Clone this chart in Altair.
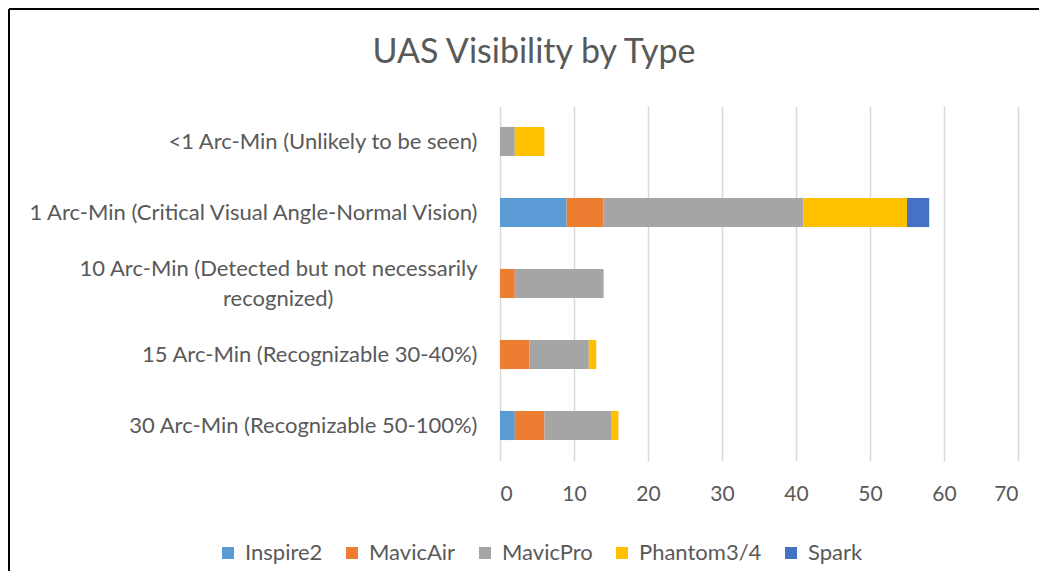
import altair as alt
import pandas as pd

categories = [
    "<1 Arc-Min (Unlikely to be seen)",
    "1 Arc-Min (Critical Visual Angle-Normal Vision)",
    "10 Arc-Min (Detected but not necessarily|recognized)",
    "15 Arc-Min (Recognizable 30-40%)",
    "30 Arc-Min (Recognizable 50-100%)",
]
series = ["Inspire2", "MavicAir", "MavicPro", "Phantom3/4", "Spark"]
colors = ["#5B9BD5", "#ED7D31", "#A5A5A5", "#FFC000", "#4472C4"]

inspire2 = [0, 9, 0, 0, 2]
mavic_air = [0, 5, 2, 4, 4]
mavic_pro = [2, 27, 12, 8, 9]
phantom = [4, 14, 0, 1, 1]
spark = [0, 3, 0, 0, 0]

values = [inspire2, mavic_air, mavic_pro, phantom, spark]
rows = []
for si, (name, vals) in enumerate(zip(series, values)):
    for cat, v in zip(categories, vals):
        if v > 0:
            rows.append({"category": cat, "type": name, "value": v, "order": si})
df = pd.DataFrame(rows)

FONT = "Lato"
GREY = "#595959"

# second line of the wrapped label sits roughly centred under the first (blank padding glyphs)
pad = "\u2800" * 9
label_expr = (
    "indexof(datum.label, '|') >= 0 ? "
    "[split(datum.label, '|')[0], split(datum.label, '|')[1] + '" + pad + "'] : datum.label"
)

bars = alt.Chart(df).mark_bar().encode(
    y=alt.Y(
        "category:N",
        sort=categories,
        title=None,
        scale=alt.Scale(paddingInner=0.59, paddingOuter=0.295),
        axis=alt.Axis(
            labelExpr=label_expr,
            labelFont=FONT,
            labelFontSize=22,
            labelColor=GREY,
            labelLimit=600,
            labelPadding=23,
            labelLineHeight=30,
            labelOffset={"condition": {"test": "indexof(datum.label, '|') >= 0", "value": -15}, "value": 0},
            ticks=False,
            domain=False,
        ),
    ),
    x=alt.X(
        "value:Q",
        stack="zero",
        title=None,
        scale=alt.Scale(domain=[0, 70], nice=False),
        axis=alt.Axis(
            values=[0, 10, 20, 30, 40, 50, 60, 70],
            labelFont=FONT,
            labelFontSize=21,
            labelColor=GREY,
            labelPadding=22,
            ticks=False,
            domain=False,
            grid=True,
            gridColor="#D9D9D9",
            gridWidth=1.5,
        ),
    ),
    color=alt.Color(
        "type:N",
        scale=alt.Scale(domain=series, range=colors),
        legend=alt.Legend(
            title=None,
            orient="none",
            direction="horizontal",
            legendX=-283,
            legendY=436,
            symbolType="square",
            symbolSize=144,
            symbolStrokeWidth=0,
            labelFont=FONT,
            labelFontSize=22,
            labelColor=GREY,
            labelOffset=6,
            columnPadding=18,
            padding=0,
        ),
    ),
    order=alt.Order("order:Q"),
)

border_left = alt.Chart(pd.DataFrame({"k": [0]})).mark_rule(color="black", strokeWidth=2).encode(
    x=alt.value(-491), y=alt.value(-97), y2=alt.value(470)
)
border_top = alt.Chart(pd.DataFrame({"k": [0]})).mark_rule(color="black", strokeWidth=2).encode(
    x=alt.value(-491), x2=alt.value(560), y=alt.value(-97)
)

chart = (
    alt.layer(bars, border_left, border_top)
    .properties(
        width=518,
        height=355,
        autosize=alt.AutoSizeParams(type="none"),
        padding={"left": 492, "top": 98, "right": 21, "bottom": 110},
        title=alt.TitleParams(
            "UAS Visibility by Type",
            font=FONT,
            fontSize=34,
            fontWeight="normal",
            color=GREY,
            anchor="middle",
            dx=-225,
            dy=96,
            offset=0,
            baseline="bottom",
        ),
    )
    .configure_view(stroke=None)
)

chart.save("out.html", embed_options={"renderer": "svg", "actions": False})
